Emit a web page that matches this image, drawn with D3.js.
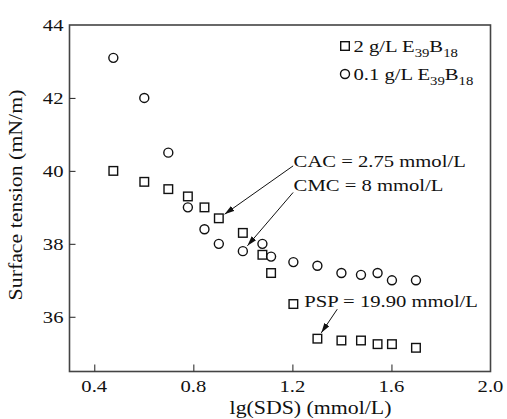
<!DOCTYPE html>
<html>
<head>
<meta charset="utf-8">
<script src="https://cdn.jsdelivr.net/npm/d3@7"></script>
<style>
  html, body { margin: 0; padding: 0; background: #fff; }
  svg { display: block; }
  text { font-family: "Liberation Serif", "Times New Roman", serif; fill: #111; }
</style>
</head>
<body>
<svg id="chart" width="507" height="419"></svg>
<script>
// lg of SDS concentration (mmol/L)
const lgSDS = [0.477, 0.602, 0.699, 0.778, 0.845, 0.903, 1.0, 1.079, 1.114, 1.204, 1.301, 1.398, 1.477, 1.544, 1.602, 1.699];
// surface tension (mN/m), 2 g/L E39B18
const tension2g = [40.0, 39.7, 39.5, 39.3, 39.0, 38.7, 38.3, 37.7, 37.2, 36.35, 35.4, 35.35, 35.35, 35.25, 35.25, 35.15];
// surface tension (mN/m), 0.1 g/L E39B18
const tension01g = [43.1, 42.0, 40.5, 39.0, 38.4, 38.0, 37.8, 38.0, 37.65, 37.5, 37.4, 37.2, 37.15, 37.2, 37.0, 37.0];

const xTicks = [0.4, 0.8, 1.2, 1.6, 2.0];
const yTicks = [36, 38, 40, 42, 44];

// annotated points: which series and which point the arrow points at
const annotations = [
  { label: "CAC = 2.75 mmol/L", series: "2g", index: 5 },
  { label: "CMC = 8 mmol/L", series: "01g", index: 6 },
  { label: "PSP = 19.90 mmol/L", series: "2g", index: 10 }
];
// label anchors (data units) and arrow start offsets (px from label anchor)
const annotationLayout = [
  { x: 1.205, y: 40.11, dx: -0.5, dy: -1 },
  { x: 1.205, y: 39.45, dx: -0.5, dy: 1.5 },
  { x: 1.248, y: 36.28, dx: 33, dy: 2.6 }
];

const svg = d3.select("#chart");
const plotLeft = 69.5, plotRight = 490.5, plotTop = 25, plotBottom = 371.5;
const x = d3.scaleLinear().domain([0.3, 2.0]).range([plotLeft, plotRight]);
const y = d3.scaleLinear().domain([34.5, 44]).range([plotBottom, plotTop]);

const SX = 1.18; // horizontal widening of the serif face
function label(parent, px, py, str, anchor, size, rotate) {
  const t = parent.append("text")
    .attr("transform", `translate(${px},${py})` + (rotate ? ` rotate(${rotate})` : "") + ` scale(${SX},1)`)
    .attr("text-anchor", anchor || "start")
    .attr("font-size", size || 17.5);
  if (str !== null) t.text(str);
  return t;
}

// arrow head
svg.append("defs").append("marker")
  .attr("id", "arrow").attr("viewBox", "0 0 10 6")
  .attr("refX", 10).attr("refY", 3)
  .attr("markerWidth", 10).attr("markerHeight", 6)
  .attr("markerUnits", "userSpaceOnUse")
  .attr("orient", "auto")
  .append("path").attr("d", "M0,0 L10,3 L0,6 Z").attr("fill", "#111");

// frame
svg.append("rect")
  .attr("x", plotLeft).attr("y", plotTop)
  .attr("width", plotRight - plotLeft).attr("height", plotBottom - plotTop)
  .attr("fill", "none").attr("stroke", "#444").attr("stroke-width", 1.6);

// inward ticks
const xAxis = d3.axisTop(x).tickValues(xTicks.filter(v => v < 2.0)).tickSize(7).tickFormat("");
svg.append("g").attr("transform", `translate(0,${plotBottom})`).call(xAxis)
  .call(g => g.select(".domain").remove())
  .selectAll("line").attr("stroke", "#333").attr("stroke-width", 1.1);
const yAxis = d3.axisRight(y).tickValues(yTicks.filter(v => v < 44)).tickSize(6).tickFormat("");
svg.append("g").attr("transform", `translate(${plotLeft},0)`).call(yAxis)
  .call(g => g.select(".domain").remove())
  .selectAll("line").attr("stroke", "#333").attr("stroke-width", 1.1);

// tick labels
xTicks.forEach(v => label(svg, x(v), 392, d3.format(".1f")(v), "middle"));
yTicks.forEach(v => label(svg, 63.5, y(v) + 6, String(v), "end"));

// axis titles
label(svg, 310.5, 414, "lg(SDS) (mmol/L)", "middle", 18.5);
label(svg, 22, 195, "Surface tension (mN/m)", "middle", 18.5, -90);

// series
const pts2 = lgSDS.map((v, i) => [v, tension2g[i]]);
const pts01 = lgSDS.map((v, i) => [v, tension01g[i]]);
const sq = 8.6;

svg.append("g").selectAll("circle").data(pts01).join("circle")
  .attr("cx", d => x(d[0])).attr("cy", d => y(d[1])).attr("r", 4.5)
  .attr("fill", "none").attr("stroke", "#111").attr("stroke-width", 1.4);

svg.append("g").selectAll("rect").data(pts2).join("rect")
  .attr("x", d => x(d[0]) - sq / 2).attr("y", d => y(d[1]) - sq / 2)
  .attr("width", sq).attr("height", sq)
  .attr("fill", "none").attr("stroke", "#111").attr("stroke-width", 1.4);

// annotations
annotations.forEach((a, i) => {
  const L = annotationLayout[i];
  const pts = a.series === "2g" ? pts2 : pts01;
  const p = pts[a.index];
  const lx = x(L.x), ly = y(L.y);
  label(svg, lx, ly, a.label, "start", 17.5);
  const sx = lx + L.dx, sy = ly + L.dy;
  const tx = x(p[0]), ty = y(p[1]);
  const vx = sx - tx, vy = sy - ty, len = Math.hypot(vx, vy);
  const gap = 7;
  svg.append("line")
    .attr("x1", sx).attr("y1", sy)
    .attr("x2", tx + vx / len * gap).attr("y2", ty + vy / len * gap)
    .attr("stroke", "#111").attr("stroke-width", 1)
    .attr("marker-end", "url(#arrow)");
});

// legend
const legend = [
  { conc: "2 g/L ", shape: "square" },
  { conc: "0.1 g/L ", shape: "circle" }
];
const legX = 345, legY = [46, 74];
legend.forEach((d, i) => {
  if (d.shape === "square") {
    svg.append("rect").attr("x", legX - sq / 2).attr("y", legY[i] - sq / 2)
      .attr("width", sq).attr("height", sq)
      .attr("fill", "none").attr("stroke", "#111").attr("stroke-width", 1.4);
  } else {
    svg.append("circle").attr("cx", legX).attr("cy", legY[i]).attr("r", 4.5)
      .attr("fill", "none").attr("stroke", "#111").attr("stroke-width", 1.4);
  }
  const t = label(svg, legX + 8.5, legY[i] + 6, null, "start", 17.5);
  t.append("tspan").text(d.conc + "E");
  t.append("tspan").attr("font-size", 12.5).attr("dy", 4.5).text("39");
  t.append("tspan").attr("dy", -4.5).text("B");
  t.append("tspan").attr("font-size", 12.5).attr("dy", 4.5).text("18");
});
</script>
</body>
</html>
